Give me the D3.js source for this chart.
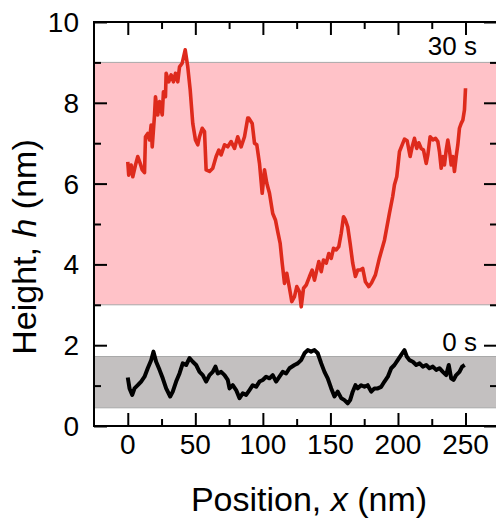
<!DOCTYPE html>
<html>
<head>
<meta charset="utf-8">
<script src="https://cdn.jsdelivr.net/npm/d3@7"></script>
<style>
  body { margin: 0; background: #fff; }
  svg { display: block; font-family: "Liberation Sans", Arial, sans-serif; }
</style>
</head>
<body>
<div id="chart"></div>
<script>
// Height profiles (position in nm, height in nm).
const pos30 = [0, 0.7, 2.5, 3.7, 5.7, 7.4, 9.2, 10.7, 12.4, 13.1, 14.8, 16.1, 17.3, 18.1, 19.8, 20.5, 22.2, 23.5, 25.5, 26.4,
  27.9, 28.4, 30.3, 32.1, 33.8, 35.3, 37.0, 38.3, 40.3, 42.5, 44.4, 46.2, 48.1, 50.1, 51.8, 53.1, 55.1, 56.8, 58.0, 60.5,
  62.9, 65.4, 67.4, 69.1, 71.6, 74.0, 76.5, 79.0, 81.4, 83.9, 86.4, 88.8, 89.6, 92.1, 93.8, 95.5, 97.5, 99.5, 101.2, 102.9,
  104.9, 107.3, 109.3, 111.0, 112.8, 114.3, 116.0, 117.7, 119.7, 121.4, 123.4, 125.1, 127.1, 128.4, 130.1, 132.1, 134.5, 136.5, 138.2, 139.9,
  141.4, 143.2, 144.9, 146.9, 148.8, 150.6, 152.3, 154.3, 156.2, 158.0, 159.7, 161.1, 162.8, 164.6, 166.5, 168.5, 170.2, 172.0, 173.9, 175.9,
  178.4, 180.4, 183.3, 186.3, 190.0, 193.7, 196.1, 197.4, 199.1, 201.1, 203.1, 204.8, 206.8, 209.0, 210.5, 212.2, 213.9, 215.4, 217.2, 218.9,
  220.9, 222.1, 223.8, 225.8, 227.8, 229.5, 230.7, 232.0, 233.2, 234.4, 235.7, 236.9, 238.1, 239.4, 240.6, 241.8, 243.1, 244.3, 245.5, 246.8,
  248.0, 249.2, 250.0];
const h30 = [6.54, 6.21, 6.46, 6.17, 6.46, 6.67, 6.50, 6.34, 6.27, 7.16, 7.24, 7.08, 7.45, 6.91, 7.70, 8.15, 7.70, 8.03, 7.70, 8.27,
  8.15, 8.73, 8.52, 8.69, 8.52, 8.73, 8.52, 8.89, 8.98, 9.31, 8.89, 8.32, 7.49, 7.08, 6.96, 7.16, 7.37, 7.29, 6.34, 6.30,
  6.38, 6.67, 6.83, 6.71, 6.96, 6.91, 7.04, 6.87, 7.16, 6.91, 7.16, 7.62, 7.62, 7.49, 7.00, 6.96, 6.50, 5.76, 6.34, 6.01,
  5.76, 5.26, 5.10, 4.81, 4.52, 4.03, 3.53, 3.78, 3.41, 3.08, 3.20, 3.45, 3.32, 2.95, 3.41, 3.49, 3.70, 3.86, 3.61, 3.86,
  4.07, 3.82, 4.11, 4.03, 4.27, 4.15, 4.40, 4.36, 4.44, 4.77, 5.18, 5.10, 4.93, 4.52, 4.03, 3.70, 3.86, 3.86, 3.90, 3.57,
  3.45, 3.54, 3.74, 4.16, 4.60, 5.27, 5.68, 5.97, 6.17, 6.79, 6.96, 7.10, 7.06, 6.67, 6.91, 7.12, 6.87, 7.01, 6.87, 6.83,
  6.50, 6.71, 7.16, 7.08, 7.12, 7.04, 6.79, 6.38, 6.67, 6.46, 6.83, 7.08, 6.83, 6.46, 6.67, 6.30, 6.67, 6.96, 7.37, 7.49,
  7.57, 7.82, 8.36];

const pos0 = [0, 1.3, 3.3, 5.0, 7.4, 9.9, 12.4, 14.8, 17.3, 19.0, 21.0, 23.5, 25.9, 28.4, 31.4, 33.3, 35.8, 38.3, 40.7, 43.2,
  45.7, 48.1, 50.6, 53.1, 55.5, 58.0, 60.5, 62.9, 64.9, 66.6, 69.1, 71.6, 74.0, 75.3, 77.7, 80.2, 82.7, 85.1, 87.6, 90.1,
  92.5, 95.0, 97.5, 99.9, 102.4, 104.9, 107.3, 109.8, 112.3, 114.7, 117.2, 119.7, 123.4, 125.8, 128.3, 130.8, 133.2, 135.7, 138.2, 140.6,
  143.2, 145.6, 148.0, 150.6, 153.0, 155.4, 158.0, 160.4, 162.8, 164.6, 166.5, 168.5, 170.2, 172.7, 175.2, 177.6, 180.2, 182.6, 185.0, 187.6,
  190.0, 192.5, 195.0, 197.4, 199.8, 202.4, 204.8, 206.5, 208.5, 211.0, 213.5, 216.0, 218.4, 220.9, 223.3, 225.8, 228.3, 230.7, 233.2, 235.7,
  237.6, 239.4, 241.1, 243.1, 245.5, 247.5, 249.4];
const h0 = [1.20, 0.93, 0.77, 0.93, 1.01, 1.10, 1.22, 1.43, 1.63, 1.84, 1.59, 1.39, 1.18, 0.93, 0.73, 0.85, 1.10, 1.30, 1.55, 1.51,
  1.68, 1.59, 1.51, 1.34, 1.26, 1.10, 1.26, 1.34, 1.47, 1.30, 1.34, 1.26, 1.14, 0.93, 1.01, 0.89, 0.69, 0.81, 0.77, 0.89,
  1.01, 0.97, 1.10, 1.14, 1.22, 1.18, 1.26, 1.10, 1.22, 1.34, 1.30, 1.43, 1.51, 1.55, 1.63, 1.80, 1.88, 1.84, 1.88, 1.80,
  1.55, 1.34, 1.18, 0.93, 0.73, 0.85, 0.69, 0.64, 0.56, 0.64, 0.85, 1.01, 0.93, 1.01, 0.97, 1.01, 0.85, 0.93, 0.93, 0.97,
  1.10, 1.22, 1.43, 1.51, 1.63, 1.76, 1.88, 1.72, 1.63, 1.59, 1.51, 1.55, 1.47, 1.51, 1.43, 1.47, 1.39, 1.43, 1.34, 1.26,
  1.51, 1.18, 1.14, 1.26, 1.34, 1.47, 1.51];

// Shaded height ranges for each time point.
const band30 = [3, 9];
const band0 = [0.45, 1.72];

const xMajor = [0, 50, 100, 150, 200, 250];
const xMinor = [25, 75, 125, 175, 225];
const yMajor = [0, 2, 4, 6, 8, 10];
const yMinor = [1, 3, 5, 7, 9];

const width = 496, height = 520;
const plot = { left: 94, right: 497, top: 22, bottom: 426 };

const svg = d3.select("#chart").append("svg")
  .attr("width", width)
  .attr("height", height);

const x = d3.scaleLinear().domain([-25, 273.3]).range([plot.left, plot.right]);
const y = d3.scaleLinear().domain([0, 10]).range([plot.bottom, plot.top]);

// Shaded bands
function band(range, fill) {
  svg.append("rect")
    .attr("x", plot.left)
    .attr("width", plot.right - plot.left)
    .attr("y", y(range[1]))
    .attr("height", y(range[0]) - y(range[1]))
    .attr("fill", fill);
  range.forEach((v) => {
    svg.append("line")
      .attr("x1", plot.left).attr("x2", plot.right)
      .attr("y1", y(v)).attr("y2", y(v))
      .attr("stroke", "#a9a9a9")
      .attr("stroke-width", 1);
  });
}
band(band30, "#ffc2c8");
band(band0, "#c3c0c0");

// Profiles
const line = d3.line().x((d) => x(d[0])).y((d) => y(d[1]));

svg.append("path")
  .attr("d", line(pos0.map((p, i) => [p, h0[i]])))
  .attr("fill", "none")
  .attr("stroke", "#000")
  .attr("stroke-width", 4)
  .attr("stroke-linejoin", "round");

svg.append("path")
  .attr("d", line(pos30.map((p, i) => [p, h30[i]])))
  .attr("fill", "none")
  .attr("stroke", "#de2a1c")
  .attr("stroke-width", 3.6)
  .attr("stroke-linejoin", "round");

// Axes with inward ticks on all four sides
function ticks(axis, vals, size) {
  return axis.tickValues(vals).tickSize(size).tickFormat("");
}
const frame = svg.append("g").attr("class", "frame");

frame.append("g").attr("transform", `translate(0,${plot.bottom})`)
  .call(ticks(d3.axisTop(x), xMajor, 13));
frame.append("g").attr("transform", `translate(0,${plot.bottom})`)
  .call(ticks(d3.axisTop(x), xMinor, 7));
frame.append("g").attr("transform", `translate(0,${plot.top})`)
  .call(ticks(d3.axisBottom(x), xMajor, 13));
frame.append("g").attr("transform", `translate(0,${plot.top})`)
  .call(ticks(d3.axisBottom(x), xMinor, 7));
frame.append("g").attr("transform", `translate(${plot.left},0)`)
  .call(ticks(d3.axisRight(y), yMajor, 13));
frame.append("g").attr("transform", `translate(${plot.left},0)`)
  .call(ticks(d3.axisRight(y), yMinor, 7));
frame.append("g").attr("transform", `translate(${plot.right},0)`)
  .call(ticks(d3.axisLeft(y), yMajor, 13));
frame.append("g").attr("transform", `translate(${plot.right},0)`)
  .call(ticks(d3.axisLeft(y), yMinor, 7));

frame.selectAll(".domain").remove();
frame.selectAll(".tick line").attr("stroke", "#000").attr("stroke-width", 2);

frame.append("path")
  .attr("d", `M${plot.right},${plot.top}H${plot.left}V${plot.bottom}H${plot.right}`)
  .attr("fill", "none")
  .attr("stroke", "#000")
  .attr("stroke-width", 2);

// Tick labels
svg.append("g").selectAll("text")
  .data(xMajor)
  .join("text")
  .attr("x", (d) => x(d))
  .attr("y", 454)
  .attr("text-anchor", "middle")
  .attr("font-size", 28)
  .text((d) => d);

svg.append("g").selectAll("text")
  .data(yMajor)
  .join("text")
  .attr("x", 79)
  .attr("y", (d) => y(d) + 10)
  .attr("text-anchor", "end")
  .attr("font-size", 28)
  .text((d) => d);

// Band labels
svg.append("text")
  .attr("x", 477).attr("y", 55)
  .attr("text-anchor", "end")
  .attr("font-size", 26)
  .text("30 s");
svg.append("text")
  .attr("x", 477).attr("y", 351)
  .attr("text-anchor", "end")
  .attr("font-size", 26)
  .text("0 s");

// Axis titles
const xt = svg.append("text")
  .attr("x", 309).attr("y", 511)
  .attr("text-anchor", "middle")
  .attr("font-size", 34);
xt.append("tspan").text("Position, ");
xt.append("tspan").attr("font-style", "italic").text("x");
xt.append("tspan").text(" (nm)");

const yt = svg.append("text")
  .attr("transform", "translate(36,247) rotate(-90)")
  .attr("text-anchor", "middle")
  .attr("font-size", 34);
yt.append("tspan").text("Height, ");
yt.append("tspan").attr("font-style", "italic").text("h");
yt.append("tspan").text(" (nm)");
</script>
</body>
</html>
